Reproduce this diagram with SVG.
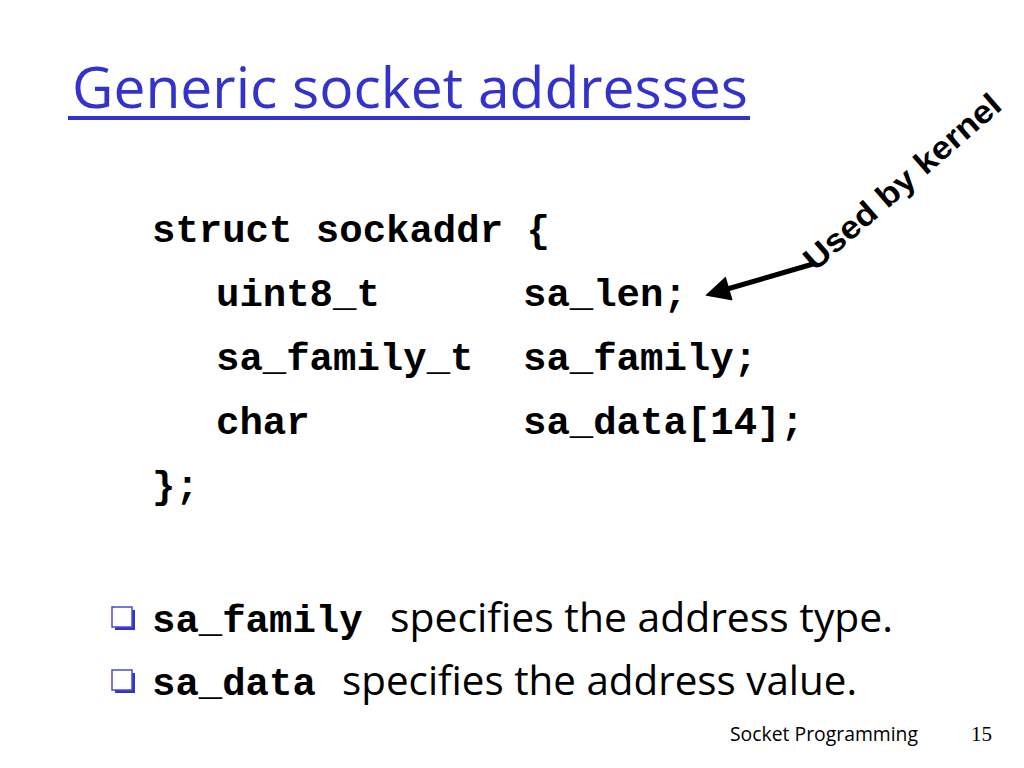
<svg xmlns="http://www.w3.org/2000/svg" width="1024" height="768" viewBox="0 0 1024 768">
<defs>
<style>
.title{font-family:"Open Sans","DejaVu Sans",sans-serif;font-size:56px;fill:#3333CC}
.code{font-family:"Liberation Mono","DejaVu Sans Mono",monospace;font-weight:bold;font-size:39px;fill:#000}
.body{font-family:"Open Sans","DejaVu Sans",sans-serif;font-size:41px;fill:#000}
.foot{font-family:"Open Sans","DejaVu Sans",sans-serif;font-size:20px;fill:#000}
.num{font-family:"Liberation Serif",serif;font-size:21px;fill:#000}
.note{font-family:"Liberation Sans",Arial,sans-serif;font-weight:bold;font-size:32px;fill:#000}
</style>
<marker id="ah" viewBox="0 0 10 10" refX="8" refY="5" markerWidth="5.5" markerHeight="5" orient="auto" markerUnits="strokeWidth">
<path d="M0,0 L10,5 L0,10 z" fill="#000"/>
</marker>
<g id="bullet">
<rect x="3" y="3" width="20" height="20" fill="#3333CC"/>
<rect x="0" y="0" width="20" height="20" fill="#fff" stroke="#4a4ad0" stroke-width="1.5"/>
</g>
</defs>
<rect width="1024" height="768" fill="#fff"/>
<g id="title">
<text class="title" x="72" y="108" textLength="676" lengthAdjust="spacingAndGlyphs">Generic socket addresses</text>
<rect x="68" y="116" width="682" height="4" fill="#3333CC"/>
</g>
<g id="code">
<text class="code" x="152" y="242">struct sockaddr {</text>
<text class="code" x="216" y="306">uint8_t</text>
<text class="code" x="523" y="306">sa_len;</text>
<text class="code" x="216" y="370">sa_family_t</text>
<text class="code" x="523" y="370">sa_family;</text>
<text class="code" x="216" y="434">char</text>
<text class="code" x="523" y="434">sa_data[14];</text>
<text class="code" x="152" y="498">};</text>
</g>
<g id="note">
<text class="note" transform="translate(815,272) rotate(-41)" textLength="250" lengthAdjust="spacingAndGlyphs">Used by kernel</text>
</g>
<g id="connectors">
<line x1="813" y1="264" x2="710" y2="294" stroke="#000" stroke-width="5" marker-end="url(#ah)"/>
</g>
<g id="bullets">
<use href="#bullet" x="112" y="607"/>
<text class="code" x="152" y="632">sa_family</text>
<text class="body" x="390" y="632" textLength="503" lengthAdjust="spacingAndGlyphs">specifies the address type.</text>
<use href="#bullet" x="112" y="670"/>
<text class="code" x="152" y="695">sa_data</text>
<text class="body" x="342" y="695" textLength="515" lengthAdjust="spacingAndGlyphs">specifies the address value.</text>
</g>
<g id="footer">
<text class="foot" x="730" y="741" textLength="188" lengthAdjust="spacingAndGlyphs">Socket Programming</text>
<text class="num" x="971" y="741">15</text>
</g>
</svg>
